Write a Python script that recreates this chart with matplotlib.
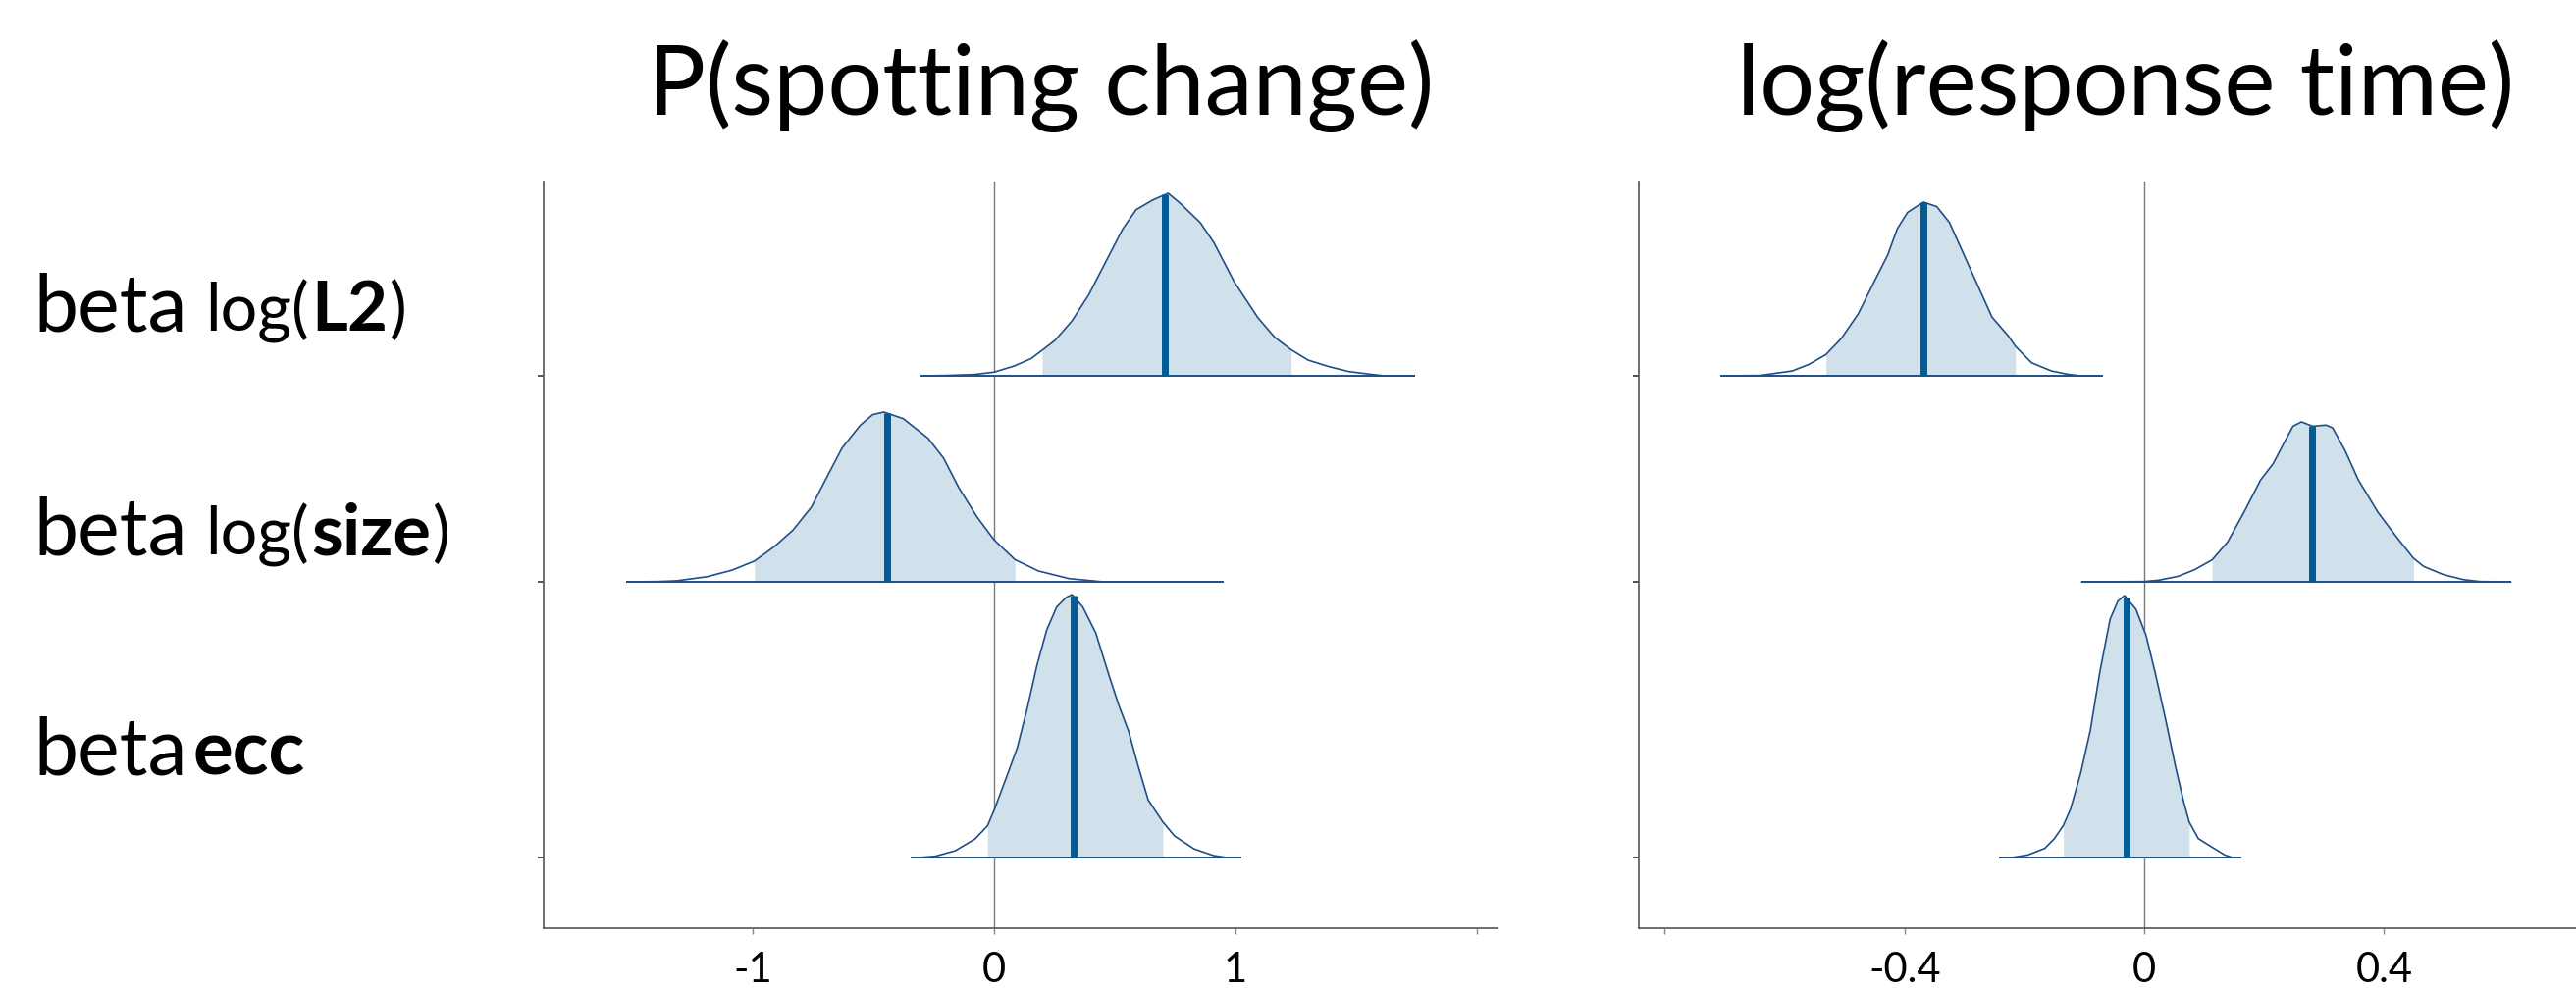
import numpy as np
import matplotlib
matplotlib.use("Agg")
import matplotlib.pyplot as plt

plt.rcParams['font.family'] = ['Lato', 'DejaVu Sans']

# posterior densities: x value, height relative to the peak
# left panel: P(spotting change)
pc_l2_x = [-0.30, -0.20, -0.084, 0.0, 0.084, 0.154, 0.199, 0.252, 0.322, 0.392, 0.462, 0.532, 0.588,
           0.658, 0.721, 0.77, 0.854, 0.91, 0.994, 1.092, 1.162, 1.23, 1.30, 1.387, 1.47, 1.58, 1.62, 1.74]
pc_l2_h = [0, 0.002, 0.007, 0.02, 0.054, 0.095, 0.14, 0.194, 0.30, 0.444, 0.624, 0.803, 0.91,
           0.964, 1.0, 0.946, 0.839, 0.73, 0.516, 0.319, 0.211, 0.143, 0.086, 0.05, 0.023, 0.005, 0.0, 0]
pc_size_x = [-1.52, -1.39, -1.316, -1.19, -1.087, -0.993, -0.91, -0.833, -0.757, -0.694, -0.63, -0.554, -0.503,
             -0.457, -0.376, -0.274, -0.21, -0.147, -0.071, 0.0, 0.086, 0.183, 0.31, 0.437, 0.46, 0.945]
pc_size_h = [0, 0.002, 0.006, 0.03, 0.068, 0.122, 0.208, 0.305, 0.44, 0.614, 0.788, 0.923, 0.985,
             1.0, 0.961, 0.846, 0.73, 0.556, 0.382, 0.247, 0.131, 0.064, 0.019, 0.002, 0, 0]
pc_ecc_x = [-0.34, -0.297, -0.243, -0.161, -0.08, -0.028, 0.0, 0.056, 0.096, 0.137, 0.177, 0.218, 0.259, 0.30,
            0.322, 0.367, 0.421, 0.476, 0.516, 0.557, 0.598, 0.638, 0.699, 0.747, 0.828, 0.909, 0.963, 1.018]
pc_ecc_h = [0, 0.001, 0.005, 0.026, 0.07, 0.12, 0.18, 0.318, 0.418, 0.567, 0.73, 0.866, 0.953, 0.99,
            1.0, 0.953, 0.854, 0.692, 0.58, 0.48, 0.343, 0.219, 0.135, 0.082, 0.033, 0.0075, 0, 0]

# right panel: log(response time)
rt_l2_x = [-0.705, -0.641, -0.614, -0.587, -0.559, -0.531, -0.505, -0.477, -0.45, -0.428, -0.412, -0.395, -0.379,
           -0.368, -0.346, -0.325, -0.303, -0.281, -0.254, -0.226, -0.215, -0.188, -0.155, -0.128, -0.107, -0.071]
rt_l2_h = [0, 0.002, 0.015, 0.028, 0.066, 0.122, 0.216, 0.357, 0.545, 0.695, 0.846, 0.94, 0.977,
           1.0, 0.974, 0.883, 0.714, 0.545, 0.338, 0.226, 0.17, 0.075, 0.028, 0.009, 0, 0]
rt_size_x = [-0.104, 0.0, 0.024, 0.057, 0.084, 0.113, 0.139, 0.166, 0.194, 0.215, 0.232, 0.248, 0.262,
             0.281, 0.303, 0.314, 0.335, 0.357, 0.39, 0.423, 0.449, 0.466, 0.499, 0.532, 0.559, 0.611]
rt_size_h = [0, 0.002, 0.01, 0.035, 0.076, 0.137, 0.249, 0.433, 0.637, 0.739, 0.861, 0.973, 1.0,
             0.973, 0.98, 0.963, 0.82, 0.637, 0.433, 0.269, 0.147, 0.096, 0.045, 0.014, 0.002, 0]
rt_ecc_x = [-0.24, -0.218, -0.194, -0.166, -0.15, -0.135, -0.123, -0.106, -0.09, -0.074, -0.057, -0.044, -0.033,
            -0.014, 0.003, 0.019, 0.036, 0.052, 0.066, 0.075, 0.09, 0.112, 0.134, 0.147, 0.161]
rt_ecc_h = [0, 0.001, 0.01, 0.035, 0.072, 0.1225, 0.185, 0.3225, 0.485, 0.71, 0.91, 0.979, 1.0,
            0.948, 0.8475, 0.6975, 0.5225, 0.3475, 0.21, 0.135, 0.0725, 0.041, 0.01, 0, 0]

# interval bounds and medians
pc_lo = [0.199, -0.993, -0.028]
pc_hi = [1.23, 0.086, 0.699]
pc_med = [0.709, -0.445, 0.327]
pc_peak = [1.86, 1.73, 2.68]

rt_lo = [-0.531, 0.113, -0.135]
rt_hi = [-0.215, 0.449, 0.075]
rt_med = [-0.368, 0.279, -0.03]
rt_peak = [1.77, 1.63, 2.67]

row_base = [5.63, 3.53, 0.72]

titles = ["P(spotting change)", "log(response time)"]
pc_ticks = [-1, 0, 1, 2]
pc_ticklabels = ["-1", "0", "1", ""]
rt_ticks = [-0.8, -0.4, 0, 0.4]
rt_ticklabels = ["", "-0.4", "0", "0.4"]

FILL = "#d1e1ec"
LINE = "#1f4f86"
MED = "#005b96"
W, H = 2625, 1007


def draw_ridge(ax, x, h, base, peak, lo, hi, med):
    x = np.array(x)
    y = base + np.array(h) * peak
    ax.fill_between(x, base, y, color="white", lw=0, zorder=2)
    inside = (x >= lo - 1e-9) & (x <= hi + 1e-9)
    ax.fill_between(x, base, y, where=inside, color=FILL, lw=0, zorder=3)
    ax.plot(x, y, color=LINE, lw=1.2, zorder=4)
    ax.plot([x[0], x[-1]], [base, base], color=LINE, lw=1.4, zorder=4)
    ym = base + np.interp(med, x, np.array(h)) * peak
    ax.plot([med, med], [base, ym], color=MED, lw=5, zorder=5, solid_capstyle="butt")


def style_axes(ax, xlim, ticks, labels):
    ax.set_xlim(*xlim)
    ax.set_ylim(0, 7.61)
    ax.axvline(0, color="#7a7a7a", lw=1.0, zorder=1)
    for s in ["top", "right"]:
        ax.spines[s].set_visible(False)
    for s in ["left", "bottom"]:
        ax.spines[s].set_color("#555555")
        ax.spines[s].set_linewidth(1.2)
    ax.set_xticks(ticks)
    ax.set_xticklabels(labels, fontsize=30, family=['Lato', 'DejaVu Sans'])
    ax.set_yticks(row_base)
    ax.set_yticklabels([])
    ax.tick_params(axis="x", length=4, width=1, color="#888888", pad=13)
    ax.tick_params(axis="y", length=4, width=1.2, color="#333333")


fig = plt.figure(figsize=(W / 100, H / 100), dpi=100)
ax1 = fig.add_axes([554 / W, 1 - 946 / H, 972 / W, 761 / H])
ax2 = fig.add_axes([1670 / W, 1 - 946 / H, 955 / W, 761 / H])

pc_data = [(pc_l2_x, pc_l2_h), (pc_size_x, pc_size_h), (pc_ecc_x, pc_ecc_h)]
rt_data = [(rt_l2_x, rt_l2_h), (rt_size_x, rt_size_h), (rt_ecc_x, rt_ecc_h)]

for i, (x, h) in enumerate(pc_data):
    draw_ridge(ax1, x, h, row_base[i], pc_peak[i], pc_lo[i], pc_hi[i], pc_med[i])
for i, (x, h) in enumerate(rt_data):
    draw_ridge(ax2, x, h, row_base[i], rt_peak[i], rt_lo[i], rt_hi[i], rt_med[i])

style_axes(ax1, (-1.866, 2.085), pc_ticks, pc_ticklabels)
style_axes(ax2, (-0.843, 0.720), rt_ticks, rt_ticklabels)

# panel titles
fig.text(1061 / W, 1 - 117 / H, titles[0], fontsize=71, ha="center", va="baseline")
fig.text(2166 / W, 1 - 117 / H, titles[1], fontsize=71, ha="center", va="baseline")

# row labels, built from pieces with different size / weight
row_labels = [
    [("beta", 58, "normal"), ("log(", 48, "normal"), ("L2", 51, "bold"), (")", 48, "normal")],
    [("beta", 58, "normal"), ("log(", 48, "normal"), ("size", 52, "bold"), (")", 48, "normal")],
    [("beta", 58, "normal"), ("ecc", 55, "bold")],
]
label_baseline = [337, 565, 790]
gaps = [[19, 2, 2], [19, 2, 2], [6]]

renderer = fig.canvas.get_renderer()
for r, parts in enumerate(row_labels):
    xpix = 34
    for j, (txt, size, weight) in enumerate(parts):
        t = fig.text(xpix / W, 1 - label_baseline[r] / H, txt, fontsize=size,
                     fontweight=weight, ha="left", va="baseline")
        wpix = t.get_window_extent(renderer).width
        if j < len(gaps[r]):
            xpix += wpix + gaps[r][j]

fig.savefig("out.png", dpi=100, facecolor="white")
